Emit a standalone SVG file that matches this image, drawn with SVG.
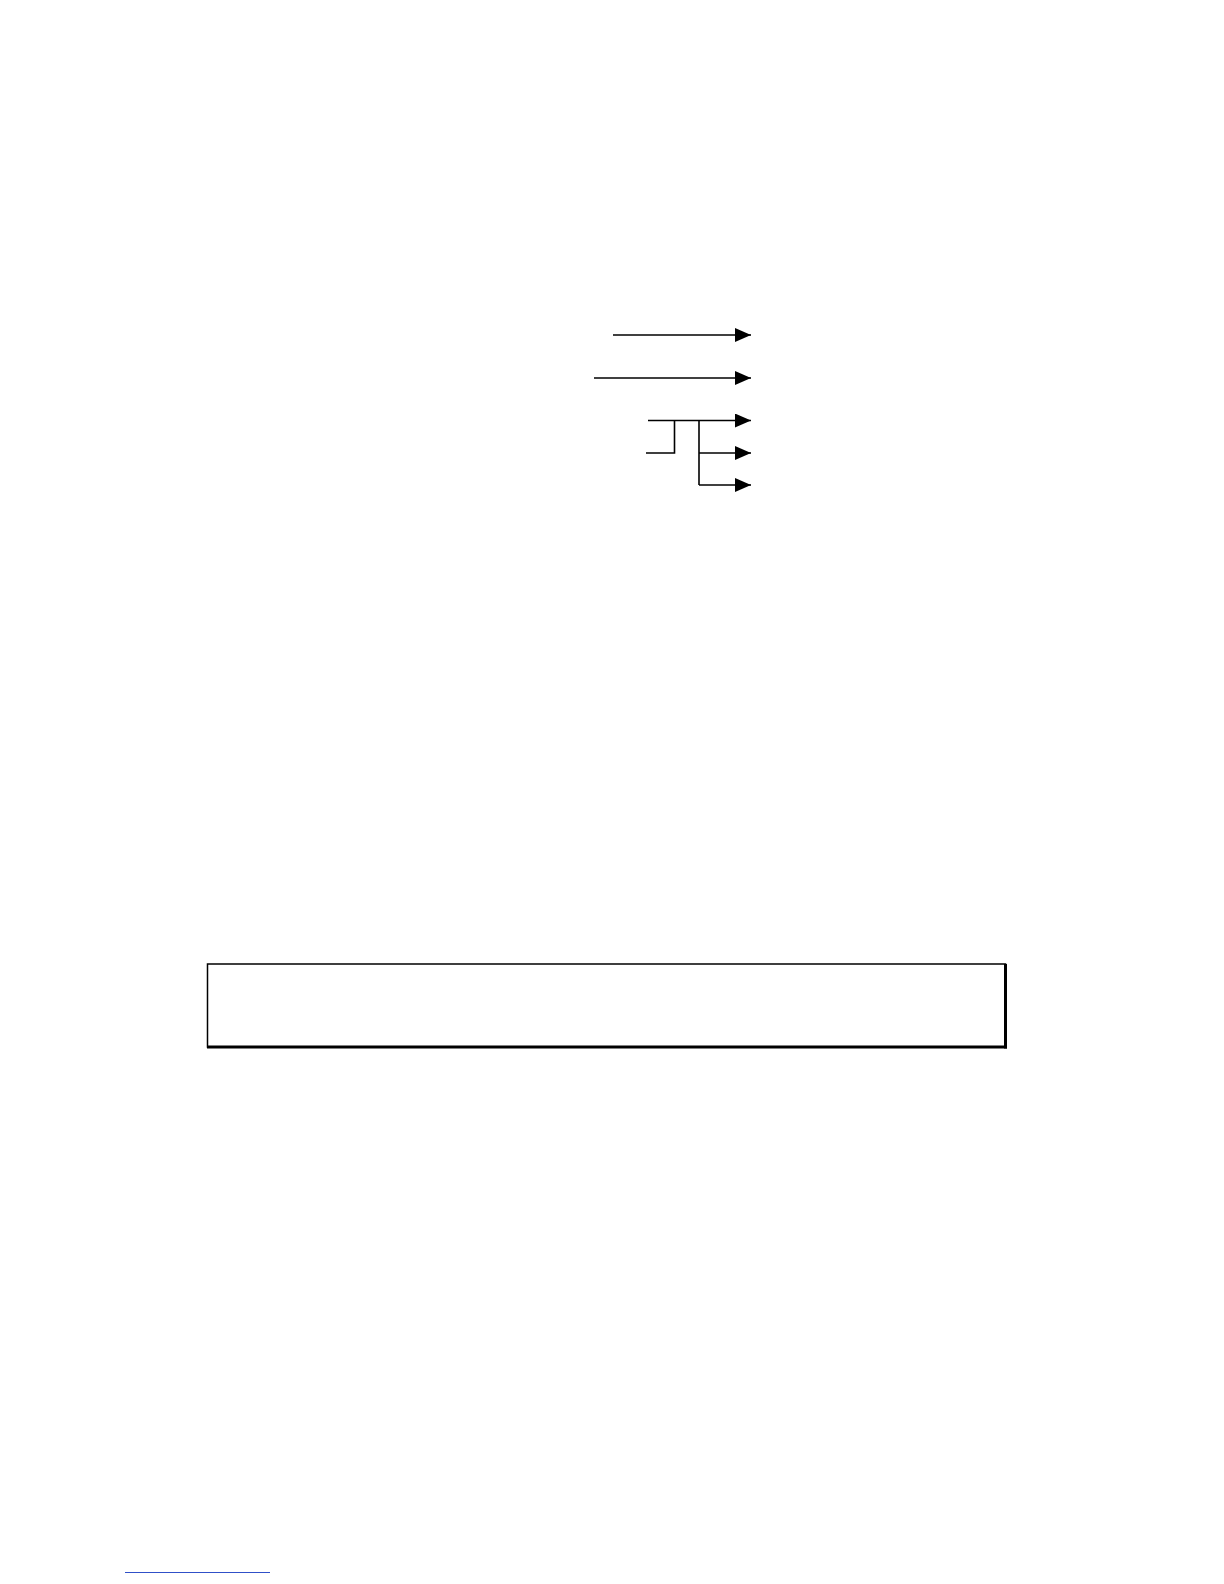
<svg xmlns="http://www.w3.org/2000/svg" width="1224" height="1584" viewBox="0 0 1224 1584">
<defs>
<marker id="arr" viewBox="0 0 16 14" refX="16" refY="7" markerWidth="16" markerHeight="14" markerUnits="userSpaceOnUse" orient="auto">
<path d="M0,0 L16,7 L0,14 Z" fill="#000"/>
</marker>
<style>
.c{fill:none;stroke:#000;stroke-width:1.6}
.a{marker-end:url(#arr)}
</style>
</defs>
<rect width="1224" height="1584" fill="#fff"/>
<g id="connectors">
<line class="c a" x1="613" y1="335" x2="751" y2="335"/>
<line class="c a" x1="594" y1="378" x2="751" y2="378"/>
<line class="c a" x1="648" y1="420.5" x2="751" y2="420.5"/>
<polyline class="c" points="646,453 674.5,453 674.5,420.5"/>
<polyline class="c" points="699,420.5 699,485"/>
<line class="c a" x1="699" y1="453" x2="751" y2="453"/>
<line class="c a" x1="699" y1="485" x2="751" y2="485"/>
</g>
<g id="box">
<rect x="207.5" y="964" width="798" height="83" fill="#fff" stroke="#000" stroke-width="1.5"/>
<line x1="1005.5" y1="964" x2="1005.5" y2="1048.5" stroke="#000" stroke-width="3"/>
<line x1="207" y1="1047" x2="1007" y2="1047" stroke="#000" stroke-width="3"/>
</g>
<g id="footnote-rule">
<line x1="125" y1="1572.5" x2="270" y2="1572.5" stroke="#3050c8" stroke-width="1"/>
</g>
</svg>
